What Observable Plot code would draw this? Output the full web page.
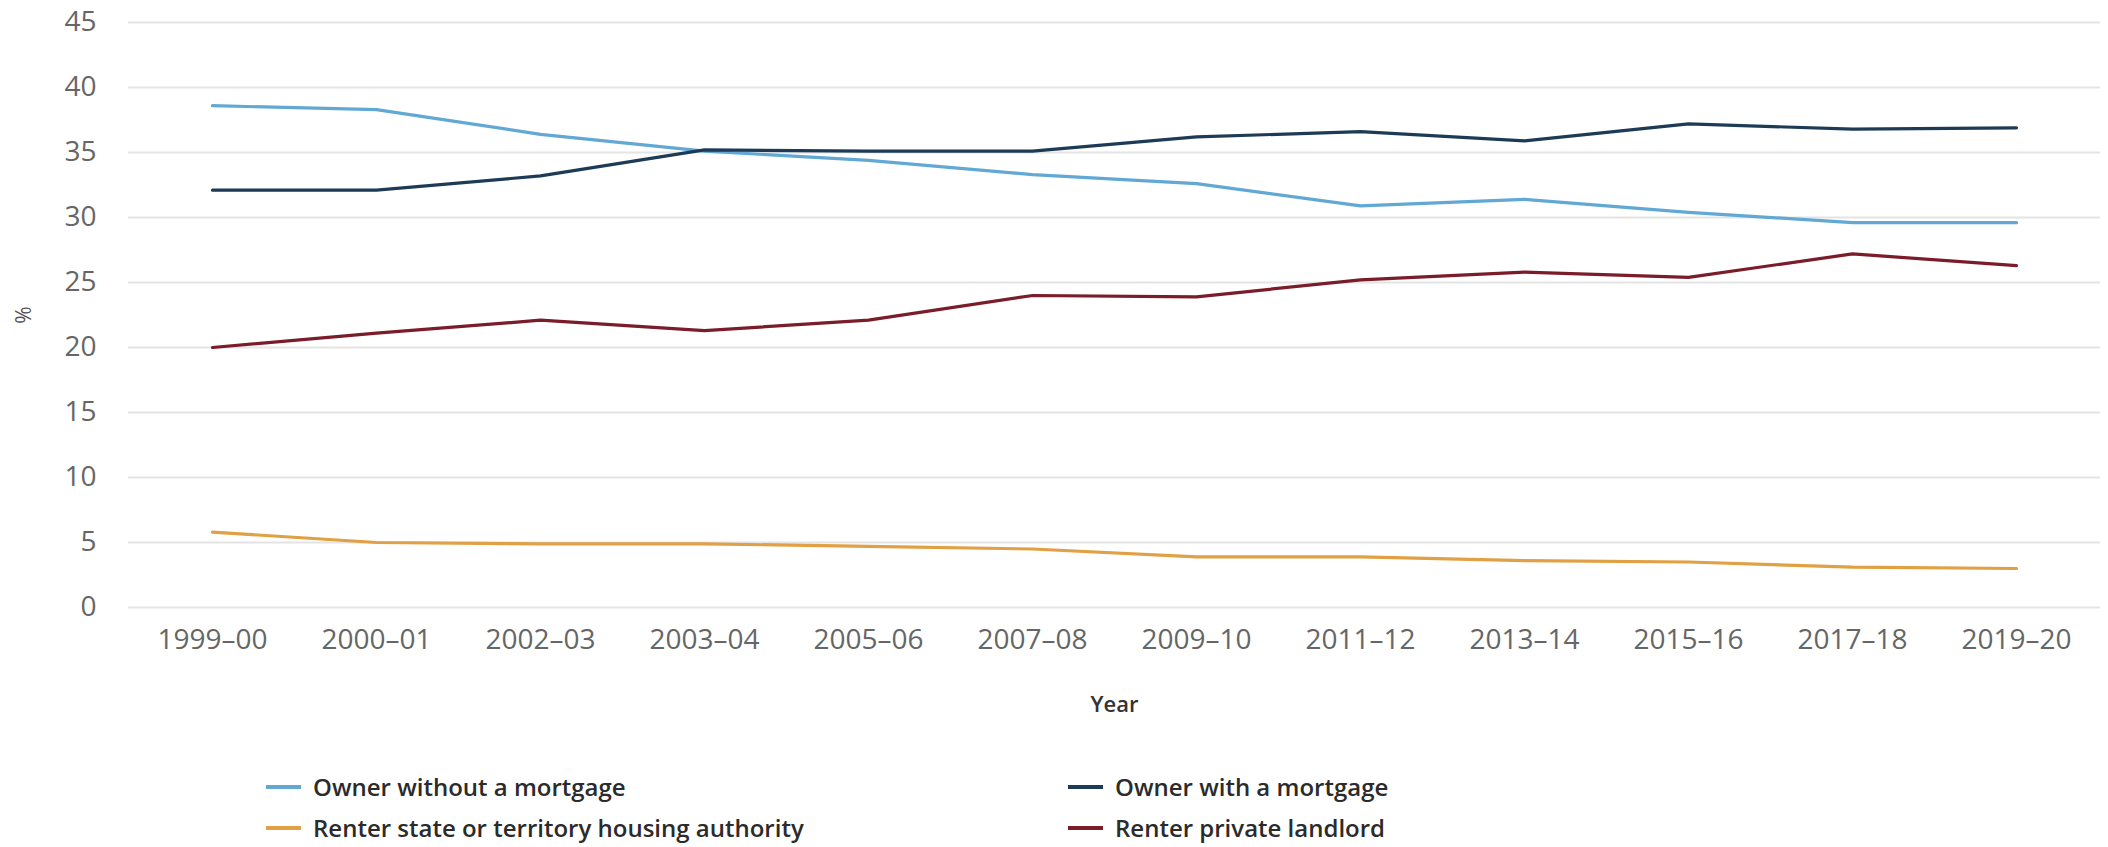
<!DOCTYPE html>
<html>
<head>
<meta charset="utf-8">
<script src="https://cdn.jsdelivr.net/npm/d3@7"></script>
<script src="https://cdn.jsdelivr.net/npm/@observablehq/plot@0.6"></script>
<style>
  html, body { margin: 0; padding: 0; background: #ffffff; }
  #wrap { width: 2108px; font-family: "Open Sans", sans-serif; }
  #legend {
    display: grid;
    grid-template-columns: 802px auto;
    grid-auto-rows: 41px;
    padding-left: 266px;
    padding-top: 26px;
  }
  .item { display: flex; align-items: center; font-size: 24px; font-weight: 600; color: #2b2b2b; }
  .sw { width: 35px; height: 4px; margin-right: 12px; flex: none; }
</style>
</head>
<body>
<div id="wrap">
  <div id="chart"></div>
  <div id="legend"></div>
</div>
<script>
const years = ["1999–00","2000–01","2002–03","2003–04","2005–06","2007–08","2009–10","2011–12","2013–14","2015–16","2017–18","2019–20"];
const ownerWithoutMortgage = [38.6, 38.3, 36.4, 35.1, 34.4, 33.3, 32.6, 30.9, 31.4, 30.4, 29.6, 29.6];
const ownerWithMortgage    = [32.1, 32.1, 33.2, 35.2, 35.1, 35.1, 36.2, 36.6, 35.9, 37.2, 36.8, 36.9];
const renterStateHousing   = [5.8, 5.0, 4.9, 4.9, 4.7, 4.5, 3.9, 3.9, 3.6, 3.5, 3.1, 3.0];
const renterPrivate        = [20.0, 21.1, 22.1, 21.3, 22.1, 24.0, 23.9, 25.2, 25.8, 25.4, 27.2, 26.3];
const seriesNames = ["Owner without a mortgage", "Owner with a mortgage", "Renter state or territory housing authority", "Renter private landlord"];
const seriesValues = [ownerWithoutMortgage, ownerWithMortgage, renterStateHousing, renterPrivate];
const seriesColors = ["#62a8d4", "#1d3b56", "#e0a043", "#7b1c2a"];
const yTicks = [0, 5, 10, 15, 20, 25, 30, 35, 40, 45];

const data = seriesNames.flatMap((name, i) =>
  years.map((year, j) => ({series: name, year, value: seriesValues[i][j]})));

const chart = Plot.plot({
  width: 2108,
  height: 740,
  marginTop: 22,
  marginBottom: 133,
  marginLeft: 128,
  marginRight: 8,
  style: {fontFamily: "Open Sans, sans-serif", fontSize: "28px", color: "#666", background: "#ffffff"},
  x: {type: "point", domain: years, padding: 0.5},
  y: {domain: [0, 45]},
  color: {domain: seriesNames, range: seriesColors},
  marks: [
    Plot.ruleY(yTicks, {stroke: "#e4e4e4", strokeWidth: 2}),
    Plot.axisY({ticks: yTicks, tickSize: 0, tickPadding: 32, label: "%", labelAnchor: "center", labelOffset: 112, labelArrow: "none", fontSize: 28}),
    Plot.axisX({tickSize: 0, tickPadding: 22, label: "Year", labelAnchor: "center", labelOffset: 104, labelArrow: "none", fontSize: 28}),
    Plot.lineY(data, {x: "year", y: "value", stroke: "series", strokeWidth: 3.2})
  ]
});
document.getElementById("chart").appendChild(chart);

const svg = d3.select(chart);
svg.select('g[aria-label="x-axis label"]').attr("font-size", 22).attr("font-weight", 600).attr("fill", "#333");
svg.select('g[aria-label="y-axis label"]').attr("font-size", 21).attr("fill", "#555");

const legend = d3.select("#legend");
seriesNames.forEach((name, i) => {
  const it = legend.append("div").attr("class", "item");
  it.append("div").attr("class", "sw").style("background", seriesColors[i]);
  it.append("span").text(name);
});
</script>
</body>
</html>
